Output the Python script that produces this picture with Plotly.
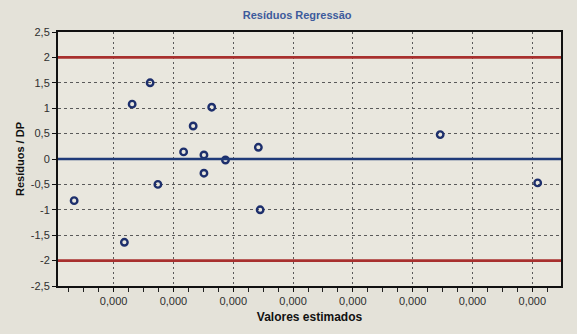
import plotly.graph_objects as go

# Standardised residuals of the regression against the fitted values
valores_estimados = [1.61e-5, 1.31e-5, 2.64e-5, 2.33e-5, 2.17e-5, 2.51e-5, 2.87e-5,
                     3.42e-5, 2.51e-5, 1.74e-5, 0.34e-5, 3.45e-5, 1.18e-5, 6.46e-5, 8.09e-5]
residuos_dp = [1.50, 1.08, 1.02, 0.65, 0.14, 0.08, -0.02,
               0.23, -0.28, -0.50, -0.82, -1.00, -1.64, 0.48, -0.47]

# Control limits and the zero reference
limites = [2.0, -2.0]
referencia = 0.0

y_ticks = [2.5, 2, 1.5, 1, 0.5, 0, -0.5, -1, -1.5, -2, -2.5]
y_tick_labels = ["2,5", "2", "1,5", "1", "0,5", "0", "-0,5", "-1", "-1,5", "-2", "-2,5"]

fig = go.Figure()

fig.add_trace(go.Scatter(
    x=valores_estimados,
    y=residuos_dp,
    mode="markers",
    marker=dict(symbol="circle-open", size=6.5, color="#1d2f6c", line=dict(width=2.4)),
    showlegend=False,
    hoverinfo="x+y",
))

for lim in limites:
    fig.add_hline(y=lim, line=dict(color="#a8302e", width=2.6), layer="above")
fig.add_hline(y=referencia, line=dict(color="#1f3a78", width=2.6), layer="above")

font_family = "Liberation Sans, Arial, sans-serif"

fig.update_layout(
    width=577,
    height=334,
    margin=dict(l=58, r=16, t=32, b=46),
    paper_bgcolor="#e4e2d9",
    plot_bgcolor="#e9e7de",
    separators=",.",
    font=dict(family=font_family, size=11, color="#2e2e2e"),
    title=dict(
        text="<b>Resíduos Regressão</b>",
        x=0.515, xanchor="center", y=0.955, yanchor="middle",
        font=dict(family=font_family, size=11, color="#3d5b9c"),
    ),
    xaxis=dict(
        range=[0.07e-5, 8.48e-5],
        tick0=1e-5, dtick=1e-5,
        tickformat=".3f",
        showgrid=True, gridcolor="#5a5a5a", gridwidth=1, griddash="2px,3px",
        showline=True, linecolor="#111111", linewidth=2, mirror=True,
        ticks="outside", ticklen=4, tickcolor="#111111",
        minor=dict(tick0=1e-5, dtick=0.25e-5, ticks="outside", ticklen=4,
                   tickcolor="#222222", tickwidth=1, showgrid=False),
        zeroline=False,
        tickfont=dict(size=11, color="#2e2e2e"),
        title=dict(text="<b>Valores estimados</b>", standoff=6,
                   font=dict(size=12, color="#111111")),
    ),
    yaxis=dict(
        range=[-2.5, 2.5],
        tickvals=y_ticks, ticktext=y_tick_labels,
        showgrid=True, gridcolor="#5a5a5a", gridwidth=1, griddash="3px,3px",
        showline=True, linecolor="#111111", linewidth=2, mirror=True,
        ticks="outside", ticklen=4, tickcolor="#111111",
        zeroline=False,
        tickfont=dict(size=11, color="#2e2e2e"),
        title=dict(text="<b>Resíduos / DP</b>", standoff=4,
                   font=dict(size=11, color="#111111")),
    ),
)

fig.write_html("out.html")
